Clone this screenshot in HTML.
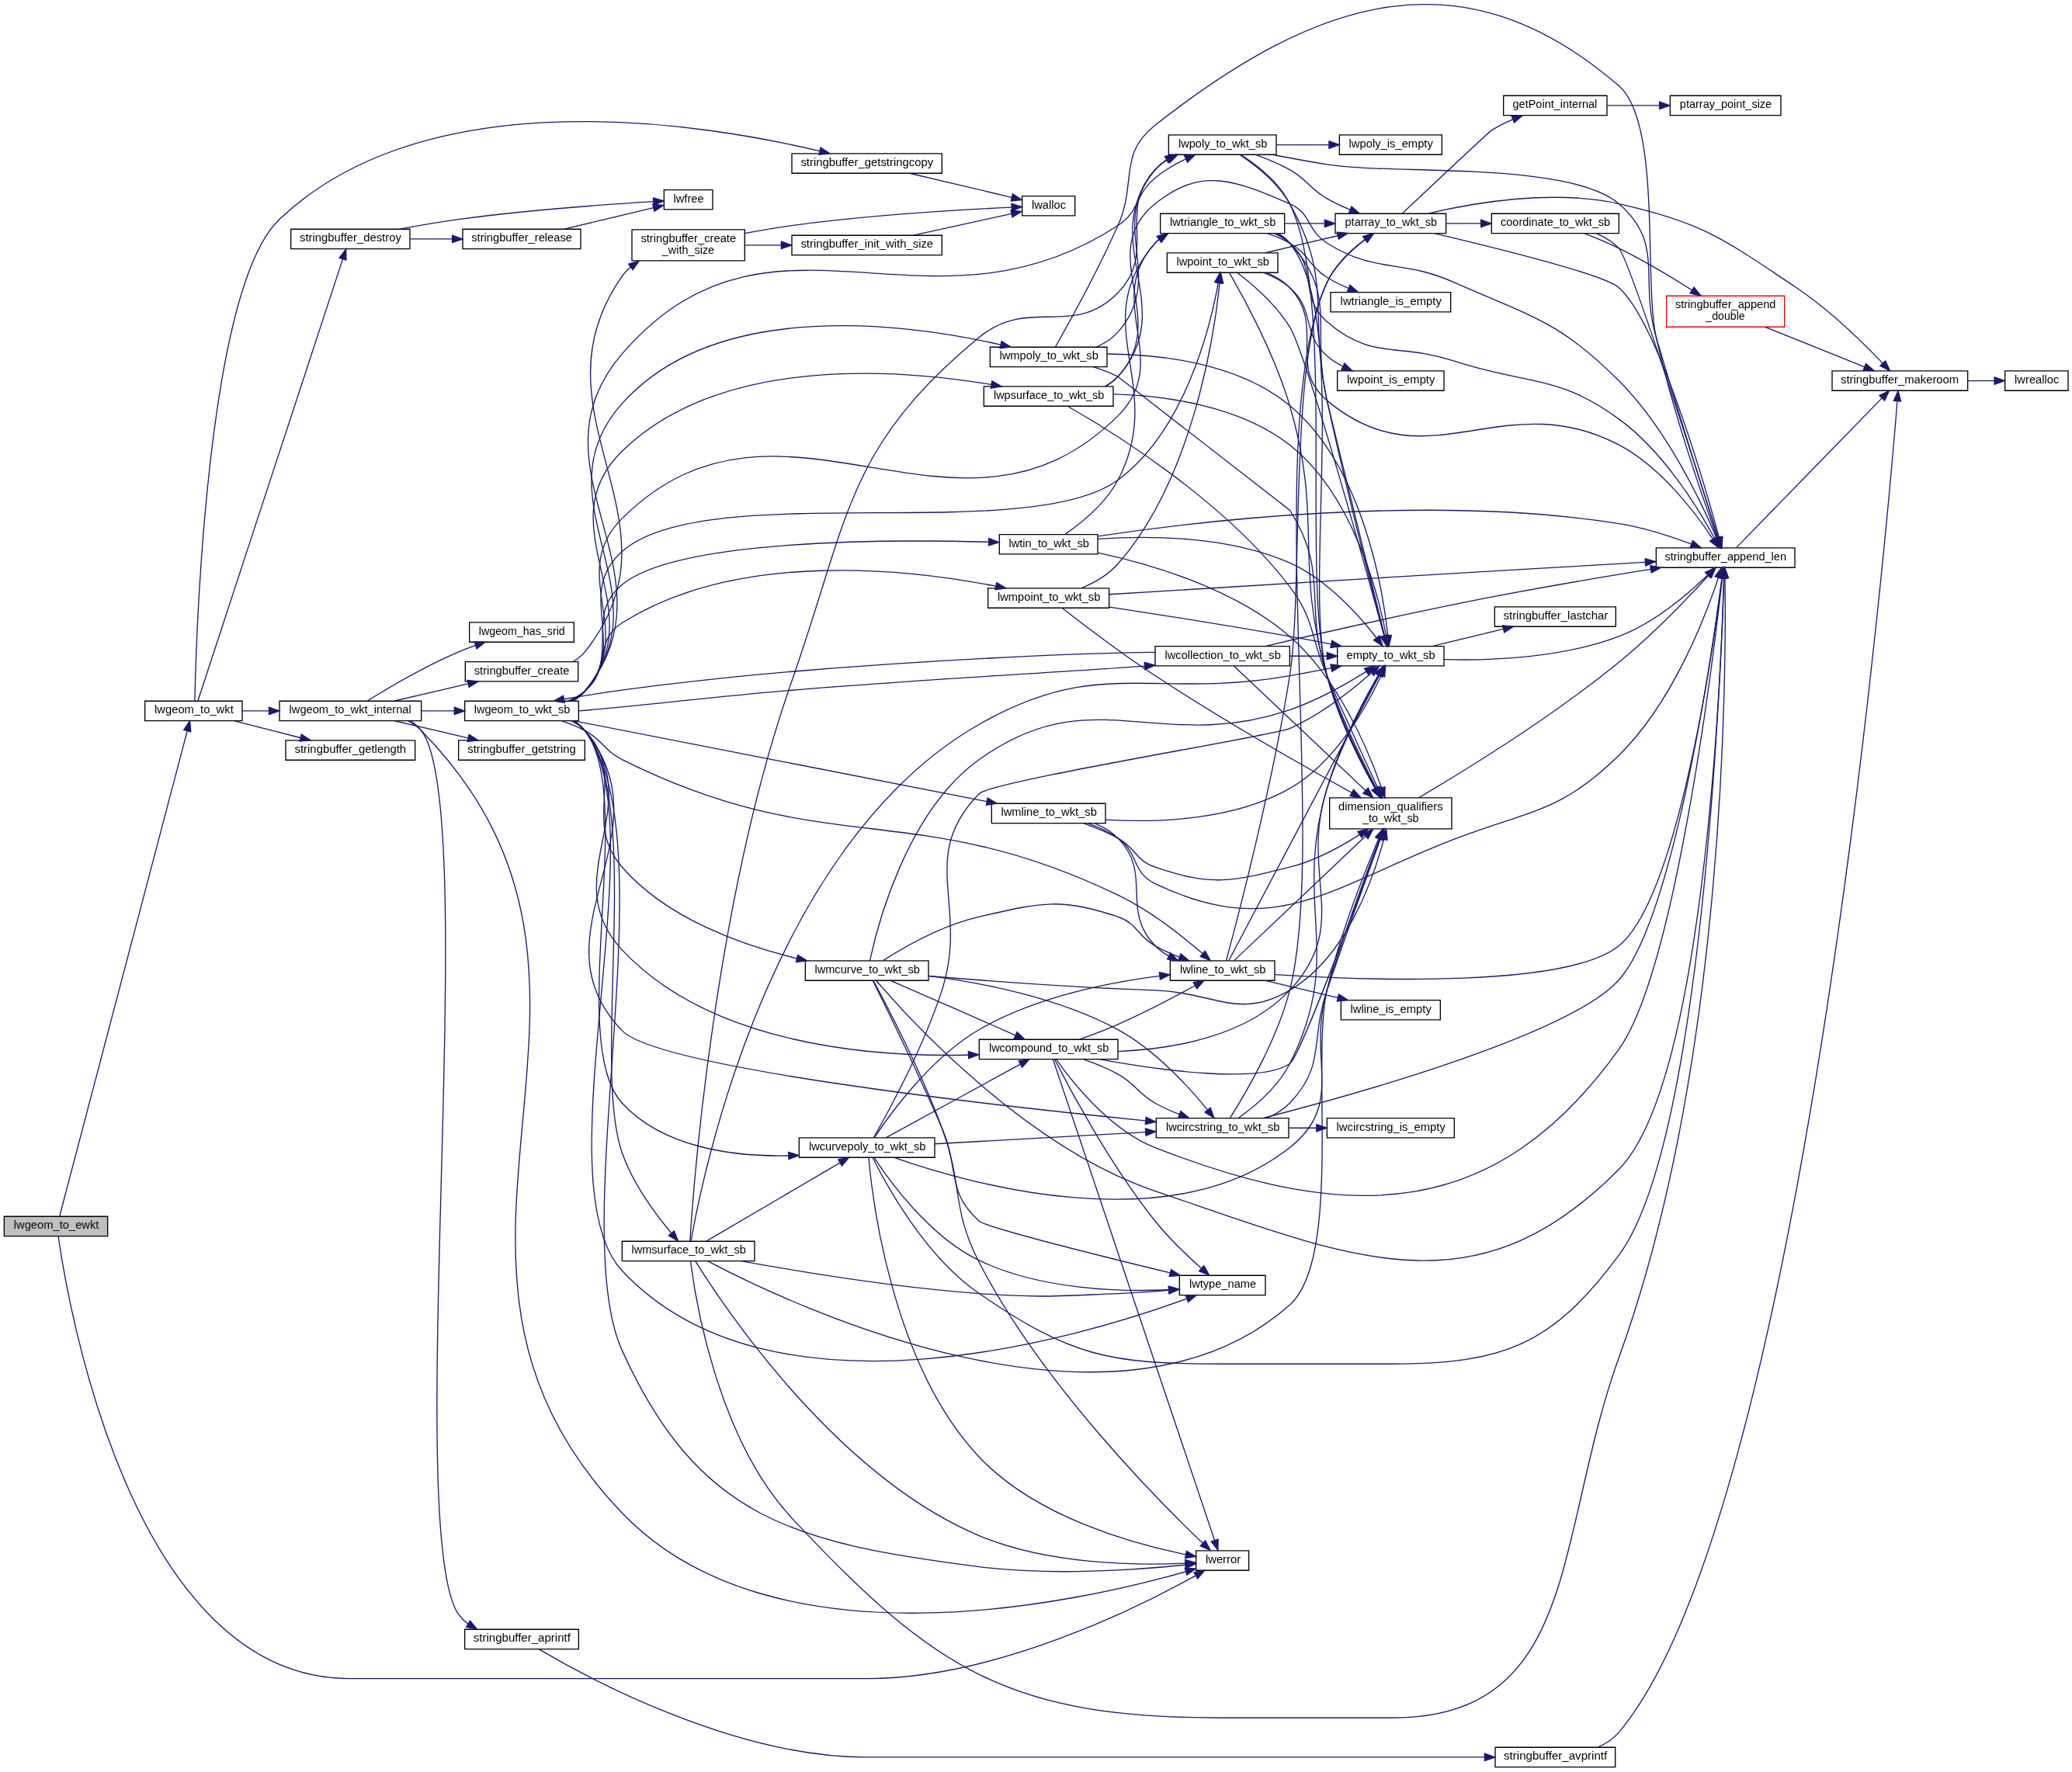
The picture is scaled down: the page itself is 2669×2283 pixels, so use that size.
<!DOCTYPE html>
<html><head><meta charset="utf-8"><style>
html,body{margin:0;padding:0;background:#fff;overflow:hidden;}
svg{display:block;}
text{font-family:"Liberation Sans",sans-serif;font-size:10.5px;text-anchor:middle;fill:#000;filter:grayscale(1);}
</style></head><body>
<svg width="2669" height="2283" viewBox="0 0 2001.75 1712.25">
<rect x="0" y="0" width="2001.75" height="1712.25" fill="#fff"/>
<g transform="scale(1 1) rotate(0) translate(4 1707.91)">
<g><polygon fill="#bfbfbf" stroke="black" points="0,-513.5 0,-532.5 100,-532.5 100,-513.5 0,-513.5"/>
<text x="50.44" y="-520.40" textLength="82.24" lengthAdjust="spacingAndGlyphs">lwgeom_to_ewkt</text>
</g>
<g><g><polygon fill="white" stroke="black" points="1151.5,-190.5 1151.5,-209.5 1202.5,-209.5 1202.5,-190.5 1151.5,-190.5"/>
<text x="1177.65" y="-197.40" textLength="33.92" lengthAdjust="spacingAndGlyphs">lwerror</text>
</g>
</g>
<g><path fill="none" stroke="midnightblue" d="M52.27,-513.47C61.4,-449.56 122.56,-86 333.5,-86 333.5,-86 333.5,-86 834.5,-86 958.62,-86 1095.66,-154.59 1150.9,-185.37"/>
<polygon fill="midnightblue" stroke="midnightblue" points="1149.51,-188.6 1159.94,-190.48 1152.96,-182.51 1149.51,-188.6"/>
</g>
<g><g><polygon fill="white" stroke="black" points="136,-1011.5 136,-1030.5 230,-1030.5 230,-1011.5 136,-1011.5"/>
<text x="183.44" y="-1018.40" textLength="76.24" lengthAdjust="spacingAndGlyphs">lwgeom_to_wkt</text>
</g>
</g>
<g><path fill="none" stroke="midnightblue" d="M53.5,-532.5C69.28,-592.47 155.06,-918.6 176.93,-1001.72"/>
<polygon fill="midnightblue" stroke="midnightblue" points="173.54,-1002.62 179.47,-1011.4 180.31,-1000.84 173.54,-1002.62"/>
</g>
<g><g><polygon fill="white" stroke="black" points="266,-1011.5 266,-1030.5 403,-1030.5 403,-1011.5 266,-1011.5"/>
<text x="334.39" y="-1018.40" textLength="117.90" lengthAdjust="spacingAndGlyphs">lwgeom_to_wkt_internal</text>
</g>
</g>
<g><path fill="none" stroke="midnightblue" d="M230.07,-1021C238.21,-1021 246.89,-1021 255.62,-1021"/>
<polygon fill="midnightblue" stroke="midnightblue" points="255.87,-1024.5 265.87,-1021 255.87,-1017.5 255.87,-1024.5"/>
</g>
<g><g><polygon fill="white" stroke="black" points="277,-1467.5 277,-1486.5 392,-1486.5 392,-1467.5 277,-1467.5"/>
<text x="334.58" y="-1474.40" textLength="98.08" lengthAdjust="spacingAndGlyphs">stringbuffer_destroy</text>
</g>
</g>
<g><path fill="none" stroke="midnightblue" d="M187.12,-1030.52C205.66,-1087.08 301.37,-1378.99 327.11,-1457.52"/>
<polygon fill="midnightblue" stroke="midnightblue" points="323.83,-1458.73 330.27,-1467.14 330.48,-1456.55 323.83,-1458.73"/>
</g>
<g><g><polygon fill="white" stroke="black" points="272,-973.5 272,-992.5 397,-992.5 397,-973.5 272,-973.5"/>
<text x="334.52" y="-980.40" textLength="107.70" lengthAdjust="spacingAndGlyphs">stringbuffer_getlength</text>
</g>
</g>
<g><path fill="none" stroke="midnightblue" d="M221.73,-1011.41C241.28,-1006.44 265.35,-1000.32 286.14,-995.04"/>
<polygon fill="midnightblue" stroke="midnightblue" points="287.22,-998.38 296.05,-992.52 285.49,-991.59 287.22,-998.38"/>
</g>
<g><g><polygon fill="white" stroke="black" points="761,-1540.5 761,-1559.5 906,-1559.5 906,-1540.5 761,-1540.5"/>
<text x="833.58" y="-1547.40" textLength="128.08" lengthAdjust="spacingAndGlyphs">stringbuffer_getstringcopy</text>
</g>
</g>
<g><path fill="none" stroke="midnightblue" d="M184.16,-1030.58C185.42,-1091.9 195.51,-1428.96 266,-1496 411.12,-1634.02 681.62,-1587.32 787.94,-1561.9"/>
<polygon fill="midnightblue" stroke="midnightblue" points="788.83,-1565.28 797.71,-1559.51 787.17,-1558.48 788.83,-1565.28"/>
</g>
<g><path fill="none" stroke="midnightblue" d="M390,-1011.37C394.81,-1008.91 399.26,-1005.83 403,-1002 645.43,-753.89 357.26,-496.71 597,-246 743.71,-92.57 1040.68,-160.38 1141.56,-189.31"/>
<polygon fill="midnightblue" stroke="midnightblue" points="1140.67,-192.7 1151.25,-192.15 1142.63,-185.98 1140.67,-192.7"/>
</g>
<g><g><polygon fill="white" stroke="black" points="449.5,-1087.5 449.5,-1106.5 550.5,-1106.5 550.5,-1087.5 449.5,-1087.5"/>
<text x="500.19" y="-1094.40" textLength="83.24" lengthAdjust="spacingAndGlyphs">lwgeom_has_srid</text>
</g>
</g>
<g><path fill="none" stroke="midnightblue" d="M350.8,-1030.68C370.58,-1042.9 406.38,-1064.02 439,-1078 444.15,-1080.21 449.64,-1082.29 455.13,-1084.21"/>
<polygon fill="midnightblue" stroke="midnightblue" points="454.34,-1087.64 464.94,-1087.49 456.56,-1081 454.34,-1087.64"/>
</g>
<g><g><polygon fill="white" stroke="black" points="445,-1011.5 445,-1030.5 555,-1030.5 555,-1011.5 445,-1011.5"/>
<text x="500.37" y="-1018.40" textLength="92.61" lengthAdjust="spacingAndGlyphs">lwgeom_to_wkt_sb</text>
</g>
</g>
<g><path fill="none" stroke="midnightblue" d="M403.42,-1021C413.82,-1021 424.52,-1021 434.83,-1021"/>
<polygon fill="midnightblue" stroke="midnightblue" points="434.99,-1024.5 444.99,-1021 434.99,-1017.5 434.99,-1024.5"/>
</g>
<g><g><polygon fill="white" stroke="black" points="445,-114.5 445,-133.5 555,-133.5 555,-114.5 445,-114.5"/>
<text x="500.24" y="-121.40" textLength="93.89" lengthAdjust="spacingAndGlyphs">stringbuffer_aprintf</text>
</g>
</g>
<g><path fill="none" stroke="midnightblue" d="M392.12,-1011.4C396.25,-1008.91 399.98,-1005.82 403,-1002 461.92,-927.52 384.11,-225.51 439,-148 441.52,-144.45 444.65,-141.42 448.15,-138.84"/>
<polygon fill="midnightblue" stroke="midnightblue" points="450.12,-141.74 456.89,-133.6 446.51,-135.74 450.12,-141.74"/>
</g>
<g><g><polygon fill="white" stroke="black" points="445.5,-1049.5 445.5,-1068.5 554.5,-1068.5 554.5,-1049.5 445.5,-1049.5"/>
<text x="500.08" y="-1056.40" textLength="92.08" lengthAdjust="spacingAndGlyphs">stringbuffer_create</text>
</g>
</g>
<g><path fill="none" stroke="midnightblue" d="M376.76,-1030.59C398.43,-1035.63 425.18,-1041.84 448.13,-1047.18"/>
<polygon fill="midnightblue" stroke="midnightblue" points="447.51,-1050.63 458.04,-1049.48 449.09,-1043.81 447.51,-1050.63"/>
</g>
<g><g><polygon fill="white" stroke="black" points="439,-973.5 439,-992.5 561,-992.5 561,-973.5 439,-973.5"/>
<text x="499.99" y="-980.40" textLength="104.65" lengthAdjust="spacingAndGlyphs">stringbuffer_getstring</text>
</g>
</g>
<g><path fill="none" stroke="midnightblue" d="M376.76,-1011.41C398.43,-1006.37 425.18,-1000.16 448.13,-994.82"/>
<polygon fill="midnightblue" stroke="midnightblue" points="449.09,-998.19 458.04,-992.52 447.51,-991.37 449.09,-998.19"/>
</g>
<g><path fill="none" stroke="midnightblue" d="M549.93,-1011.46C554.16,-1008.98 557.98,-1005.88 561,-1002 642.98,-896.82 541.92,-524.45 597,-403 671.05,-239.73 764.17,-216.71 942,-194 1012.31,-185.02 1095.43,-191.06 1141.27,-195.82"/>
<polygon fill="midnightblue" stroke="midnightblue" points="1140.96,-199.31 1151.28,-196.91 1141.72,-192.35 1140.96,-199.31"/>
</g>
<g><g><polygon fill="white" stroke="black" points="1113,-608.5 1113,-627.5 1241,-627.5 1241,-608.5 1113,-608.5"/>
<text x="1177.37" y="-615.40" textLength="109.86" lengthAdjust="spacingAndGlyphs">lwcircstring_to_wkt_sb</text>
</g>
</g>
<g><path fill="none" stroke="midnightblue" d="M549.4,-1011.42C553.79,-1008.95 557.79,-1005.86 561,-1002 644.05,-902.15 507,-805.64 597,-712 631.67,-675.92 954.36,-639.84 1102.4,-625.02"/>
<polygon fill="midnightblue" stroke="midnightblue" points="1103.15,-628.46 1112.75,-623.99 1102.45,-621.5 1103.15,-628.46"/>
</g>
<g><g><polygon fill="white" stroke="black" points="1112,-1064.5 1112,-1083.5 1242,-1083.5 1242,-1064.5 1112,-1064.5"/>
<text x="1177.37" y="-1071.40" textLength="112.11" lengthAdjust="spacingAndGlyphs">lwcollection_to_wkt_sb</text>
</g>
</g>
<g><path fill="none" stroke="midnightblue" d="M555.2,-1020.99C607.73,-1025.38 689.72,-1034.97 761,-1041 880.08,-1051.08 1018.75,-1058.16 1101.84,-1064.34"/>
<polygon fill="midnightblue" stroke="midnightblue" points="1101.7,-1067.84 1111.94,-1065.11 1102.23,-1060.86 1101.7,-1067.84"/>
</g>
<g><g><polygon fill="white" stroke="black" points="942,-684.5 942,-703.5 1076,-703.5 1076,-684.5 942,-684.5"/>
<text x="1009.37" y="-691.40" textLength="115.86" lengthAdjust="spacingAndGlyphs">lwcompound_to_wkt_sb</text>
</g>
</g>
<g><path fill="none" stroke="midnightblue" d="M548.93,-1011.43C553.47,-1008.97 557.63,-1005.87 561,-1002 623.74,-929.91 531.66,-859.75 597,-790 682.95,-698.25 838.29,-686.36 931.42,-688.5"/>
<polygon fill="midnightblue" stroke="midnightblue" points="931.52,-692 941.62,-688.8 931.73,-685.01 931.52,-692"/>
</g>
<g><g><polygon fill="white" stroke="black" points="1126.5,-760.5 1126.5,-779.5 1227.5,-779.5 1227.5,-760.5 1126.5,-760.5"/>
<text x="1177.37" y="-767.40" textLength="82.85" lengthAdjust="spacingAndGlyphs">lwline_to_wkt_sb</text>
</g>
</g>
<g><path fill="none" stroke="midnightblue" d="M538.32,-1011.44C546.03,-1008.85 553.94,-1005.71 561,-1002 578.94,-992.57 578.87,-983.07 597,-974 794.37,-875.23 877.15,-938.75 1076,-843 1107.21,-827.97 1138.75,-802.94 1157.84,-786.45"/>
<polygon fill="midnightblue" stroke="midnightblue" points="1160.26,-788.98 1165.46,-779.75 1155.64,-783.73 1160.26,-788.98"/>
</g>
<g><g><polygon fill="white" stroke="black" points="1135.5,-456.5 1135.5,-475.5 1218.5,-475.5 1218.5,-456.5 1135.5,-456.5"/>
<text x="1177.28" y="-463.40" textLength="64.68" lengthAdjust="spacingAndGlyphs">lwtype_name</text>
</g>
</g>
<g><path fill="none" stroke="midnightblue" d="M549.89,-1011.43C554.14,-1008.96 557.96,-1005.86 561,-1002 632.88,-910.61 517.47,-564.83 597,-480 742.27,-325.04 1042.05,-416.29 1142.42,-452.93"/>
<polygon fill="midnightblue" stroke="midnightblue" points="1141.45,-456.3 1152.04,-456.5 1143.88,-449.74 1141.45,-456.3"/>
</g>
<g><g><polygon fill="white" stroke="black" points="768,-589.5 768,-608.5 899,-608.5 899,-589.5 768,-589.5"/>
<text x="833.87" y="-596.40" textLength="112.86" lengthAdjust="spacingAndGlyphs">lwcurvepoly_to_wkt_sb</text>
</g>
</g>
<g><path fill="none" stroke="midnightblue" d="M549.49,-1011.5C553.87,-1009.02 557.83,-1005.9 561,-1002 611.67,-939.58 542.5,-701.1 597,-642 636.95,-598.68 704.9,-590.15 757.57,-591.17"/>
<polygon fill="midnightblue" stroke="midnightblue" points="757.78,-594.68 767.88,-591.5 758,-587.68 757.78,-594.68"/>
</g>
<g><g><polygon fill="white" stroke="black" points="774,-760.5 774,-779.5 893,-779.5 893,-760.5 774,-760.5"/>
<text x="833.87" y="-767.40" textLength="101.61" lengthAdjust="spacingAndGlyphs">lwmcurve_to_wkt_sb</text>
</g>
</g>
<g><path fill="none" stroke="midnightblue" d="M547.97,-1011.4C552.8,-1008.94 557.29,-1005.86 561,-1002 603.12,-958.14 557.01,-915.81 597,-870 640.36,-820.33 712.61,-794.64 765.67,-781.82"/>
<polygon fill="midnightblue" stroke="midnightblue" points="766.73,-785.17 775.68,-779.5 765.15,-778.35 766.73,-785.17"/>
</g>
<g><g><polygon fill="white" stroke="black" points="954,-912.5 954,-931.5 1064,-931.5 1064,-912.5 954,-912.5"/>
<text x="1009.37" y="-919.40" textLength="92.60" lengthAdjust="spacingAndGlyphs">lwmline_to_wkt_sb</text>
</g>
</g>
<g><path fill="none" stroke="midnightblue" d="M550.07,-1011.42C643.9,-993.1 848.34,-953.18 949.25,-933.47"/>
<polygon fill="midnightblue" stroke="midnightblue" points="950.13,-936.87 959.27,-931.52 948.79,-930 950.13,-936.87"/>
</g>
<g><g><polygon fill="white" stroke="black" points="950.5,-1120.5 950.5,-1139.5 1067.5,-1139.5 1067.5,-1120.5 950.5,-1120.5"/>
<text x="1009.37" y="-1127.40" textLength="99.36" lengthAdjust="spacingAndGlyphs">lwmpoint_to_wkt_sb</text>
</g>
</g>
<g><path fill="none" stroke="midnightblue" d="M545,-1030.55C550.75,-1033.01 556.28,-1036.11 561,-1040 586.79,-1061.24 568.78,-1088.11 597,-1106 709.43,-1177.26 875.79,-1157.54 958.11,-1141.5"/>
<polygon fill="midnightblue" stroke="midnightblue" points="958.85,-1144.92 967.96,-1139.52 957.47,-1138.06 958.85,-1144.92"/>
</g>
<g><g><polygon fill="white" stroke="black" points="1123.5,-1444.5 1123.5,-1463.5 1230.5,-1463.5 1230.5,-1444.5 1123.5,-1444.5"/>
<text x="1177.37" y="-1451.40" textLength="89.61" lengthAdjust="spacingAndGlyphs">lwpoint_to_wkt_sb</text>
</g>
</g>
<g><path fill="none" stroke="midnightblue" d="M547.99,-1030.58C552.82,-1033.04 557.3,-1036.13 561,-1040 603.89,-1084.91 550.59,-1133.75 597,-1175 677.38,-1246.45 989.4,-1180.23 1076,-1244 1140.77,-1291.7 1165.29,-1392.31 1172.98,-1434.62"/>
<polygon fill="midnightblue" stroke="midnightblue" points="1169.53,-1435.21 1174.66,-1444.48 1176.43,-1434.04 1169.53,-1435.21"/>
</g>
<g><g><polygon fill="white" stroke="black" points="952.5,-1353.5 952.5,-1372.5 1065.5,-1372.5 1065.5,-1353.5 952.5,-1353.5"/>
<text x="1009.37" y="-1360.40" textLength="95.61" lengthAdjust="spacingAndGlyphs">lwmpoly_to_wkt_sb</text>
</g>
</g>
<g><path fill="none" stroke="midnightblue" d="M549.38,-1030.6C553.77,-1033.06 557.78,-1036.14 561,-1040 640.92,-1135.57 513.9,-1225.18 597,-1318 689.47,-1421.3 876.37,-1394.34 962.57,-1374.87"/>
<polygon fill="midnightblue" stroke="midnightblue" points="963.62,-1378.22 972.56,-1372.55 962.03,-1371.4 963.62,-1378.22"/>
</g>
<g><g><polygon fill="white" stroke="black" points="1125,-1558.5 1125,-1577.5 1229,-1577.5 1229,-1558.5 1125,-1558.5"/>
<text x="1177.37" y="-1565.40" textLength="85.86" lengthAdjust="spacingAndGlyphs">lwpoly_to_wkt_sb</text>
</g>
</g>
<g><path fill="none" stroke="midnightblue" d="M549.45,-1030.54C553.83,-1033.01 557.81,-1036.11 561,-1040 653.46,-1152.7 501.57,-1255.81 597,-1366 740.96,-1532.23 892.06,-1369.48 1076,-1490 1097.71,-1504.23 1091.9,-1519.57 1112,-1536 1120.75,-1543.15 1131.36,-1549.26 1141.4,-1554.16"/>
<polygon fill="midnightblue" stroke="midnightblue" points="1140.23,-1557.48 1150.78,-1558.49 1143.16,-1551.12 1140.23,-1557.48"/>
</g>
<g><g><polygon fill="white" stroke="black" points="597,-489.5 597,-508.5 725,-508.5 725,-489.5 597,-489.5"/>
<text x="661.37" y="-496.40" textLength="110.61" lengthAdjust="spacingAndGlyphs">lwmsurface_to_wkt_sb</text>
</g>
</g>
<g><path fill="none" stroke="midnightblue" d="M549.82,-1011.37C554.07,-1008.91 557.92,-1005.84 561,-1002 617.95,-931 566.92,-679.91 597,-594 607.45,-564.14 629.41,-534.53 644.44,-516.5"/>
<polygon fill="midnightblue" stroke="midnightblue" points="647.33,-518.51 651.17,-508.63 642.01,-513.95 647.33,-518.51"/>
</g>
<g><g><polygon fill="white" stroke="black" points="946.5,-1315.5 946.5,-1334.5 1071.5,-1334.5 1071.5,-1315.5 946.5,-1315.5"/>
<text x="1009.37" y="-1322.40" textLength="106.86" lengthAdjust="spacingAndGlyphs">lwpsurface_to_wkt_sb</text>
</g>
</g>
<g><path fill="none" stroke="midnightblue" d="M548.99,-1030.52C553.52,-1033 557.66,-1036.1 561,-1040 628.94,-1119.2 522.27,-1199.17 597,-1272 692.65,-1365.22 865.72,-1351.11 953.61,-1336.31"/>
<polygon fill="midnightblue" stroke="midnightblue" points="954.4,-1339.73 963.64,-1334.56 953.19,-1332.83 954.4,-1339.73"/>
</g>
<g><g><polygon fill="white" stroke="black" points="961.5,-1172.5 961.5,-1191.5 1056.5,-1191.5 1056.5,-1172.5 961.5,-1172.5"/>
<text x="1009.37" y="-1179.40" textLength="77.61" lengthAdjust="spacingAndGlyphs">lwtin_to_wkt_sb</text>
</g>
</g>
<g><path fill="none" stroke="midnightblue" d="M547.11,-1030.57C552.22,-1033.03 557,-1036.12 561,-1040 595.79,-1073.78 559.69,-1112.02 597,-1143 649.46,-1186.56 850.97,-1186.91 951,-1184.22"/>
<polygon fill="midnightblue" stroke="midnightblue" points="951.33,-1187.71 961.23,-1183.93 951.13,-1180.72 951.33,-1187.71"/>
</g>
<g><g><polygon fill="white" stroke="black" points="1117,-1482.5 1117,-1501.5 1237,-1501.5 1237,-1482.5 1117,-1482.5"/>
<text x="1177.37" y="-1489.40" textLength="102.36" lengthAdjust="spacingAndGlyphs">lwtriangle_to_wkt_sb</text>
</g>
</g>
<g><path fill="none" stroke="midnightblue" d="M548.47,-1030.56C553.16,-1033.03 557.47,-1036.12 561,-1040 612.1,-1096.16 543.08,-1153.54 597,-1207 751.37,-1360.06 921.63,-1152.94 1076,-1306 1129.92,-1359.46 1060.4,-1417.3 1112,-1473 1113.22,-1474.32 1114.52,-1475.54 1115.9,-1476.68"/>
<polygon fill="midnightblue" stroke="midnightblue" points="1114.19,-1479.75 1124.46,-1482.35 1118.06,-1473.91 1114.19,-1479.75"/>
</g>
<g><g><polygon fill="white" stroke="black" points="1280.5,-907 1280.5,-937 1398.5,-937 1398.5,-907 1280.5,-907"/>
<text x="1339.51" y="-924.90" textLength="100.92" lengthAdjust="spacingAndGlyphs">dimension_qualifiers</text>
<text x="1339.44" y="-913.90" textLength="54.47" lengthAdjust="spacingAndGlyphs">_to_wkt_sb</text>
</g>
</g>
<g><path fill="none" stroke="midnightblue" d="M1219.82,-627.54C1228,-630.99 1235.92,-635.67 1242,-642 1277.35,-678.79 1261.49,-702.73 1278,-751 1295.84,-803.16 1317.57,-863.94 1329.53,-897.17"/>
<polygon fill="midnightblue" stroke="midnightblue" points="1326.37,-898.72 1333.05,-906.94 1332.95,-896.35 1326.37,-898.72"/>
</g>
<g><g><polygon fill="white" stroke="black" points="1596,-1159.5 1596,-1178.5 1730,-1178.5 1730,-1159.5 1596,-1159.5"/>
<text x="1663.02" y="-1166.40" textLength="117.45" lengthAdjust="spacingAndGlyphs">stringbuffer_append_len</text>
</g>
</g>
<g><path fill="none" stroke="midnightblue" d="M1216.43,-627.53C1303.62,-649.89 1512.55,-707.84 1560,-761 1613.08,-820.46 1649.81,-1075.24 1659.47,-1148.95"/>
<polygon fill="midnightblue" stroke="midnightblue" points="1656.04,-1149.7 1660.79,-1159.17 1662.98,-1148.8 1656.04,-1149.7"/>
</g>
<g><g><polygon fill="white" stroke="black" points="1288,-1064.5 1288,-1083.5 1391,-1083.5 1391,-1064.5 1288,-1064.5"/>
<text x="1339.67" y="-1071.40" textLength="85.50" lengthAdjust="spacingAndGlyphs">empty_to_wkt_sb</text>
</g>
</g>
<g><path fill="none" stroke="midnightblue" d="M1192.7,-627.69C1207.79,-638.51 1230.63,-657.49 1242,-680 1295.81,-786.48 1244.11,-831.61 1278,-946 1290.15,-987.01 1313.74,-1031.41 1327.6,-1055.65"/>
<polygon fill="midnightblue" stroke="midnightblue" points="1324.67,-1057.57 1332.72,-1064.45 1330.72,-1054.05 1324.67,-1057.57"/>
</g>
<g><g><polygon fill="white" stroke="black" points="1278,-608.5 1278,-627.5 1401,-627.5 1401,-608.5 1278,-608.5"/>
<text x="1339.78" y="-615.40" textLength="105.17" lengthAdjust="spacingAndGlyphs">lwcircstring_is_empty</text>
</g>
</g>
<g><path fill="none" stroke="midnightblue" d="M1241.43,-618C1250.06,-618 1258.96,-618 1267.71,-618"/>
<polygon fill="midnightblue" stroke="midnightblue" points="1267.88,-621.5 1277.88,-618 1267.88,-614.5 1267.88,-621.5"/>
</g>
<g><g><polygon fill="white" stroke="black" points="1286,-1482.5 1286,-1501.5 1393,-1501.5 1393,-1482.5 1286,-1482.5"/>
<text x="1339.85" y="-1489.40" textLength="88.89" lengthAdjust="spacingAndGlyphs">ptarray_to_wkt_sb</text>
</g>
</g>
<g><path fill="none" stroke="midnightblue" d="M1184.43,-627.82C1198.01,-649.17 1229.42,-701.85 1242,-751 1279.74,-898.46 1214.01,-1296.89 1278,-1435 1285.86,-1451.97 1301.27,-1466.37 1314.57,-1476.45"/>
<polygon fill="midnightblue" stroke="midnightblue" points="1312.74,-1479.44 1322.9,-1482.43 1316.82,-1473.76 1312.74,-1479.44"/>
</g>
<g><path fill="none" stroke="midnightblue" d="M1366.64,-937.12C1408.96,-962.09 1494.36,-1014.52 1560,-1068 1593.09,-1094.96 1627.56,-1131.05 1646.75,-1151.99"/>
<polygon fill="midnightblue" stroke="midnightblue" points="1644.23,-1154.42 1653.54,-1159.47 1649.41,-1149.72 1644.23,-1154.42"/>
</g>
<g><g><polygon fill="white" stroke="black" points="1766,-1330.5 1766,-1349.5 1897,-1349.5 1897,-1330.5 1766,-1330.5"/>
<text x="1831.34" y="-1337.40" textLength="114.10" lengthAdjust="spacingAndGlyphs">stringbuffer_makeroom</text>
</g>
</g>
<g><path fill="none" stroke="midnightblue" d="M1673.43,-1178.68C1700.67,-1206.67 1779.75,-1287.88 1814.17,-1323.23"/>
<polygon fill="midnightblue" stroke="midnightblue" points="1811.69,-1325.7 1821.17,-1330.42 1816.71,-1320.82 1811.69,-1325.7"/>
</g>
<g><g><polygon fill="white" stroke="black" points="1933,-1330.5 1933,-1349.5 1994,-1349.5 1994,-1330.5 1933,-1330.5"/>
<text x="1963.79" y="-1337.40" textLength="42.94" lengthAdjust="spacingAndGlyphs">lwrealloc</text>
</g>
</g>
<g><path fill="none" stroke="midnightblue" d="M1897.12,-1340C1905.8,-1340 1914.5,-1340 1922.58,-1340"/>
<polygon fill="midnightblue" stroke="midnightblue" points="1922.8,-1343.5 1932.8,-1340 1922.8,-1336.5 1922.8,-1343.5"/>
</g>
<g><path fill="none" stroke="midnightblue" d="M1391.05,-1070.67C1436.69,-1069.44 1504.94,-1072.06 1560,-1093 1594.32,-1106.05 1627.08,-1134.2 1645.83,-1152.34"/>
<polygon fill="midnightblue" stroke="midnightblue" points="1643.41,-1154.87 1652.98,-1159.42 1648.34,-1149.9 1643.41,-1154.87"/>
</g>
<g><g><polygon fill="white" stroke="black" points="1440,-1102.5 1440,-1121.5 1557,-1121.5 1557,-1102.5 1440,-1102.5"/>
<text x="1498.95" y="-1109.40" textLength="101.07" lengthAdjust="spacingAndGlyphs">stringbuffer_lastchar</text>
</g>
</g>
<g><path fill="none" stroke="midnightblue" d="M1380.12,-1083.59C1400.84,-1088.6 1426.39,-1094.79 1448.36,-1100.11"/>
<polygon fill="midnightblue" stroke="midnightblue" points="1447.62,-1103.53 1458.17,-1102.48 1449.27,-1096.73 1447.62,-1103.53"/>
</g>
<g><path fill="none" stroke="midnightblue" d="M1381.57,-1482.49C1441.34,-1468.34 1546.66,-1442.11 1560,-1430 1597.67,-1395.83 1641.85,-1243.36 1656.78,-1188.63"/>
<polygon fill="midnightblue" stroke="midnightblue" points="1660.21,-1189.35 1659.43,-1178.79 1653.45,-1187.53 1660.21,-1189.35"/>
</g>
<g><path fill="none" stroke="midnightblue" d="M1375.53,-1501.52C1419.23,-1511.92 1495.98,-1525.31 1560,-1511 1641.49,-1492.78 1660.51,-1477.31 1730,-1431 1763.05,-1408.97 1796.2,-1376.44 1814.95,-1356.83"/>
<polygon fill="midnightblue" stroke="midnightblue" points="1817.53,-1359.2 1821.85,-1349.52 1812.44,-1354.39 1817.53,-1359.2"/>
</g>
<g><g><polygon fill="white" stroke="black" points="1437,-1482.5 1437,-1501.5 1560,-1501.5 1560,-1482.5 1437,-1482.5"/>
<text x="1498.67" y="-1489.40" textLength="105.74" lengthAdjust="spacingAndGlyphs">coordinate_to_wkt_sb</text>
</g>
</g>
<g><path fill="none" stroke="midnightblue" d="M1393.22,-1492C1403.92,-1492 1415.35,-1492 1426.57,-1492"/>
<polygon fill="midnightblue" stroke="midnightblue" points="1426.79,-1495.5 1436.79,-1492 1426.79,-1488.5 1426.79,-1495.5"/>
</g>
<g><g><polygon fill="white" stroke="black" points="1448.5,-1596.5 1448.5,-1615.5 1548.5,-1615.5 1548.5,-1596.5 1448.5,-1596.5"/>
<text x="1498.20" y="-1603.40" textLength="81.54" lengthAdjust="spacingAndGlyphs">getPoint_internal</text>
</g>
</g>
<g><path fill="none" stroke="midnightblue" d="M1350.88,-1501.78C1375.3,-1524.76 1434.54,-1580.45 1437,-1582 1443.3,-1585.99 1450.38,-1589.51 1457.41,-1592.55"/>
<polygon fill="midnightblue" stroke="midnightblue" points="1456.3,-1595.88 1466.89,-1596.39 1458.93,-1589.39 1456.3,-1595.88"/>
</g>
<g><path fill="none" stroke="midnightblue" d="M1538.07,-1482.45C1546.14,-1478.98 1554,-1474.3 1560,-1468 1570.19,-1457.3 1635.52,-1252.68 1655.92,-1188.25"/>
<polygon fill="midnightblue" stroke="midnightblue" points="1659.32,-1189.13 1658.99,-1178.54 1652.64,-1187.02 1659.32,-1189.13"/>
</g>
<g><g><polygon fill="white" stroke="red" points="1606,-1392 1606,-1422 1720,-1422 1720,-1392 1606,-1392"/>
<text x="1662.99" y="-1409.90" textLength="97.14" lengthAdjust="spacingAndGlyphs">stringbuffer_append</text>
<text x="1662.85" y="-1398.90" textLength="37.80" lengthAdjust="spacingAndGlyphs">_double</text>
</g>
</g>
<g><path fill="none" stroke="midnightblue" d="M1526.41,-1482.39C1537.04,-1478.32 1549.26,-1473.3 1560,-1468 1584.39,-1455.97 1610.71,-1440.15 1630.5,-1427.64"/>
<polygon fill="midnightblue" stroke="midnightblue" points="1632.55,-1430.48 1639.1,-1422.15 1628.79,-1424.58 1632.55,-1430.48"/>
</g>
<g><path fill="none" stroke="midnightblue" d="M1701.37,-1391.96C1730.06,-1380.42 1769.32,-1364.62 1797,-1353.48"/>
<polygon fill="midnightblue" stroke="midnightblue" points="1798.66,-1356.58 1806.63,-1349.6 1796.05,-1350.09 1798.66,-1356.58"/>
</g>
<g><g><polygon fill="white" stroke="black" points="1609.5,-1596.5 1609.5,-1615.5 1716.5,-1615.5 1716.5,-1596.5 1609.5,-1596.5"/>
<text x="1663.27" y="-1603.40" textLength="88.72" lengthAdjust="spacingAndGlyphs">ptarray_point_size</text>
</g>
</g>
<g><path fill="none" stroke="midnightblue" d="M1548.7,-1606C1564.55,-1606 1582.35,-1606 1599.06,-1606"/>
<polygon fill="midnightblue" stroke="midnightblue" points="1599.3,-1609.5 1609.3,-1606 1599.3,-1602.5 1599.3,-1609.5"/>
</g>
<g><path fill="none" stroke="midnightblue" d="M1111.94,-1077.6C1030.35,-1076.75 885.05,-1069.5 761,-1059 682.88,-1052.39 591.91,-1041.51 540.93,-1032.36"/>
<polygon fill="midnightblue" stroke="midnightblue" points="541.45,-1028.9 530.98,-1030.5 540.16,-1035.78 541.45,-1028.9"/>
</g>
<g><path fill="none" stroke="midnightblue" d="M1188.04,-1064.49C1213.18,-1040.68 1279.36,-978.01 1314.99,-944.27"/>
<polygon fill="midnightblue" stroke="midnightblue" points="1317.66,-946.55 1322.52,-937.14 1312.85,-941.47 1317.66,-946.55"/>
</g>
<g><path fill="none" stroke="midnightblue" d="M1218.25,-1083.5C1269.07,-1095.35 1359.26,-1115.89 1437,-1131 1488.23,-1140.96 1546.32,-1150.73 1590.64,-1157.87"/>
<polygon fill="midnightblue" stroke="midnightblue" points="1590.31,-1161.36 1600.73,-1159.49 1591.42,-1154.45 1590.31,-1161.36"/>
</g>
<g><path fill="none" stroke="midnightblue" d="M1242.36,-1074C1254.09,-1074 1266.3,-1074 1277.93,-1074"/>
<polygon fill="midnightblue" stroke="midnightblue" points="1277.96,-1077.5 1287.96,-1074 1277.96,-1070.5 1277.96,-1077.5"/>
</g>
<g><path fill="none" stroke="midnightblue" d="M1013.32,-684.13C1033.65,-623.62 1141.54,-302.55 1169.42,-219.58"/>
<polygon fill="midnightblue" stroke="midnightblue" points="1172.81,-220.49 1172.68,-209.89 1166.17,-218.26 1172.81,-220.49"/>
</g>
<g><path fill="none" stroke="midnightblue" d="M1042.44,-684.46C1053.42,-680.65 1065.54,-675.78 1076,-670 1093.74,-660.19 1094.31,-651.89 1112,-642 1119.29,-637.92 1127.41,-634.27 1135.35,-631.13"/>
<polygon fill="midnightblue" stroke="midnightblue" points="1136.75,-634.34 1144.88,-627.54 1134.29,-627.79 1136.75,-634.34"/>
</g>
<g><path fill="none" stroke="midnightblue" d="M1057.73,-684.46C1116.76,-673.77 1213.02,-660.36 1242,-680 1251.58,-686.49 1307.52,-837.27 1329.57,-897.49"/>
<polygon fill="midnightblue" stroke="midnightblue" points="1326.32,-898.79 1333.04,-906.98 1332.89,-896.39 1326.32,-898.79"/>
</g>
<g><path fill="none" stroke="midnightblue" d="M1016.47,-684.28C1030.78,-663.78 1067.41,-616.55 1112,-599 1301.4,-524.46 1441.43,-528.57 1560,-694 1614.33,-769.8 1650.9,-1069.05 1659.86,-1149.18"/>
<polygon fill="midnightblue" stroke="midnightblue" points="1656.41,-1149.8 1660.98,-1159.36 1663.37,-1149.03 1656.41,-1149.8"/>
</g>
<g><path fill="none" stroke="midnightblue" d="M1076.1,-691.93C1128.57,-694.07 1199.89,-706.05 1242,-751 1302.25,-815.32 1250.94,-862.12 1278,-946 1291.13,-986.71 1314.37,-1031.22 1327.9,-1055.55"/>
<polygon fill="midnightblue" stroke="midnightblue" points="1324.93,-1057.41 1332.89,-1064.4 1331.03,-1053.97 1324.93,-1057.41"/>
</g>
<g><path fill="none" stroke="midnightblue" d="M1038.91,-703.59C1050.57,-707.7 1064.06,-712.75 1076,-718 1101.98,-729.42 1130.62,-744.59 1150.57,-755.6"/>
<polygon fill="midnightblue" stroke="midnightblue" points="1148.9,-758.68 1159.34,-760.48 1152.31,-752.56 1148.9,-758.68"/>
</g>
<g><path fill="none" stroke="midnightblue" d="M1014.77,-684.47C1028.15,-658.17 1067.97,-582.88 1112,-528 1125.47,-511.21 1143.2,-494.36 1156.58,-482.47"/>
<polygon fill="midnightblue" stroke="midnightblue" points="1159.04,-484.97 1164.28,-475.76 1154.44,-479.69 1159.04,-484.97"/>
</g>
<g><path fill="none" stroke="midnightblue" d="M1188.04,-779.51C1213.18,-803.32 1279.36,-865.99 1314.99,-899.73"/>
<polygon fill="midnightblue" stroke="midnightblue" points="1312.85,-902.53 1322.52,-906.86 1317.66,-897.45 1312.85,-902.53"/>
</g>
<g><path fill="none" stroke="midnightblue" d="M1227.7,-766.24C1319.41,-760.38 1510.43,-753.59 1560,-794 1616.84,-840.34 1650.7,-1078.41 1659.62,-1149.15"/>
<polygon fill="midnightblue" stroke="midnightblue" points="1656.18,-1149.85 1660.88,-1159.35 1663.13,-1149 1656.18,-1149.85"/>
</g>
<g><path fill="none" stroke="midnightblue" d="M1183.16,-779.77C1205.99,-823.01 1298.14,-997.56 1328.64,-1055.33"/>
<polygon fill="midnightblue" stroke="midnightblue" points="1325.68,-1057.21 1333.44,-1064.42 1331.87,-1053.94 1325.68,-1057.21"/>
</g>
<g><path fill="none" stroke="midnightblue" d="M1180.66,-779.76C1190.44,-815.92 1224.64,-945.82 1242,-1055 1255.32,-1138.77 1240.74,-1358.8 1278,-1435 1286.22,-1451.8 1301.62,-1466.2 1314.83,-1476.32"/>
<polygon fill="midnightblue" stroke="midnightblue" points="1312.95,-1479.29 1323.09,-1482.34 1317.07,-1473.63 1312.95,-1479.29"/>
</g>
<g><g><polygon fill="white" stroke="black" points="1291.5,-722.5 1291.5,-741.5 1387.5,-741.5 1387.5,-722.5 1291.5,-722.5"/>
<text x="1339.78" y="-729.40" textLength="78.17" lengthAdjust="spacingAndGlyphs">lwline_is_empty</text>
</g>
</g>
<g><path fill="none" stroke="midnightblue" d="M1218.5,-760.41C1239.68,-755.4 1265.8,-749.21 1288.26,-743.89"/>
<polygon fill="midnightblue" stroke="midnightblue" points="1289.37,-747.23 1298.29,-741.52 1287.75,-740.42 1289.37,-747.23"/>
</g>
<g><path fill="none" stroke="midnightblue" d="M835.24,-589.29C838.84,-548.52 857.99,-389.1 942,-300 996.75,-241.93 1090.76,-216.02 1141.35,-205.8"/>
<polygon fill="midnightblue" stroke="midnightblue" points="1142.3,-209.18 1151.45,-203.85 1140.97,-202.31 1142.3,-209.18"/>
</g>
<g><path fill="none" stroke="midnightblue" d="M899.14,-602.6C957.08,-605.82 1042.04,-610.55 1102.54,-613.91"/>
<polygon fill="midnightblue" stroke="midnightblue" points="1102.61,-617.42 1112.78,-614.48 1102.99,-610.43 1102.61,-617.42"/>
</g>
<g><path fill="none" stroke="midnightblue" d="M859.93,-589.37C929.7,-564.77 1126.58,-507.72 1242,-599 1296.45,-642.06 1258.39,-684.4 1278,-751 1293.49,-803.61 1315.9,-863.78 1328.65,-896.87"/>
<polygon fill="midnightblue" stroke="midnightblue" points="1325.55,-898.56 1332.43,-906.62 1332.08,-896.03 1325.55,-898.56"/>
</g>
<g><path fill="none" stroke="midnightblue" d="M839.03,-589.44C851.6,-563.98 889.45,-494.04 942,-458 1031.32,-396.75 1067.7,-390 1176,-390 1176,-390 1176,-390 1340.5,-390 1448.64,-390 1495.64,-408.09 1560,-495 1639.94,-602.95 1658.31,-1049.45 1661.45,-1149.18"/>
<polygon fill="midnightblue" stroke="midnightblue" points="1657.95,-1149.47 1661.75,-1159.36 1664.95,-1149.26 1657.95,-1149.47"/>
</g>
<g><path fill="none" stroke="midnightblue" d="M840.08,-608.61C853.48,-632.1 887.74,-694.68 906,-751 932.5,-832.76 881.83,-879.63 942,-941 953.92,-953.16 1226.43,-997.1 1242,-1004 1272.36,-1017.46 1302.56,-1041.54 1320.89,-1057.64"/>
<polygon fill="midnightblue" stroke="midnightblue" points="1318.65,-1060.34 1328.43,-1064.41 1323.32,-1055.13 1318.65,-1060.34"/>
</g>
<g><path fill="none" stroke="midnightblue" d="M852.09,-608.63C882.7,-625.39 945.89,-659.99 981.71,-679.61"/>
<polygon fill="midnightblue" stroke="midnightblue" points="980.17,-682.75 990.62,-684.48 983.53,-676.61 980.17,-682.75"/>
</g>
<g><path fill="none" stroke="midnightblue" d="M840.71,-608.72C855.42,-630.91 894.74,-685.51 942,-713 995.99,-744.4 1066.64,-758.57 1116.13,-764.92"/>
<polygon fill="midnightblue" stroke="midnightblue" points="1116.01,-768.43 1126.36,-766.16 1116.85,-761.48 1116.01,-768.43"/>
</g>
<g><path fill="none" stroke="midnightblue" d="M840.58,-589.27C855.03,-567.12 893.83,-513.11 942,-490 1000.27,-462.05 1075.91,-459.48 1125.18,-461.6"/>
<polygon fill="midnightblue" stroke="midnightblue" points="1125.12,-465.1 1135.28,-462.11 1125.47,-458.11 1125.12,-465.1"/>
</g>
<g><path fill="none" stroke="midnightblue" d="M839.78,-760.29C852.52,-736.56 885.43,-673.51 906,-618 926.83,-561.78 914.52,-541.28 942,-488 1002.06,-371.58 1114.34,-258.4 1158,-216.76"/>
<polygon fill="midnightblue" stroke="midnightblue" points="1160.46,-219.25 1165.32,-209.84 1155.65,-214.17 1160.46,-219.25"/>
</g>
<g><path fill="none" stroke="midnightblue" d="M893.17,-764.84C944.06,-758.4 1018.4,-744.15 1076,-713 1112.28,-693.38 1145.02,-657.15 1162.55,-635.54"/>
<polygon fill="midnightblue" stroke="midnightblue" points="1165.43,-637.54 1168.9,-627.53 1159.95,-633.19 1165.43,-637.54"/>
</g>
<g><path fill="none" stroke="midnightblue" d="M893.18,-764.81C949.3,-760.13 1036.35,-753.59 1112,-751 1169.74,-749.03 1192.11,-721.87 1242,-751 1296.33,-782.73 1322.48,-857.6 1332.85,-896.9"/>
<polygon fill="midnightblue" stroke="midnightblue" points="1329.49,-897.91 1335.31,-906.76 1336.28,-896.21 1329.49,-897.91"/>
</g>
<g><path fill="none" stroke="midnightblue" d="M842.74,-760.13C873.55,-724.1 986.64,-599.58 1112,-557 1300.74,-492.89 1419.72,-436.38 1560,-578 1642.57,-661.35 1658.81,-1055.95 1661.51,-1149.21"/>
<polygon fill="midnightblue" stroke="midnightblue" points="1658.02,-1149.57 1661.79,-1159.48 1665.02,-1149.39 1658.02,-1149.57"/>
</g>
<g><path fill="none" stroke="midnightblue" d="M836.41,-779.69C843.51,-813.02 871.74,-923.6 942,-974 1051.72,-1052.7 1114.1,-978.7 1242,-1022 1268.8,-1031.07 1297.02,-1047.15 1315.97,-1059.03"/>
<polygon fill="midnightblue" stroke="midnightblue" points="1314.17,-1062.03 1324.48,-1064.48 1317.94,-1056.14 1314.17,-1062.03"/>
</g>
<g><path fill="none" stroke="midnightblue" d="M856.47,-760.37C886.98,-747.01 942.31,-722.77 977,-707.58"/>
<polygon fill="midnightblue" stroke="midnightblue" points="978.45,-710.77 986.2,-703.55 975.64,-704.35 978.45,-710.77"/>
</g>
<g><path fill="none" stroke="midnightblue" d="M849.01,-779.67C868.96,-792.33 906.43,-813.85 942,-822 1000.05,-835.3 1019.67,-841.33 1076,-822 1095.17,-815.42 1094.31,-803.89 1112,-794 1119.29,-789.92 1127.41,-786.27 1135.35,-783.13"/>
<polygon fill="midnightblue" stroke="midnightblue" points="1136.75,-786.34 1144.88,-779.54 1134.29,-779.79 1136.75,-786.34"/>
</g>
<g><path fill="none" stroke="midnightblue" d="M839.22,-760.49C850.96,-736.69 882.28,-672.56 906,-618 923.18,-578.49 909.74,-556.56 942,-528 949.01,-521.79 1059.82,-494.14 1126.4,-477.94"/>
<polygon fill="midnightblue" stroke="midnightblue" points="1127.4,-481.3 1136.29,-475.54 1125.74,-474.5 1127.4,-481.3"/>
</g>
<g><path fill="none" stroke="midnightblue" d="M1042.44,-912.46C1053.42,-908.65 1065.54,-903.78 1076,-898 1093.74,-888.19 1092.83,-876.58 1112,-870 1166.65,-851.25 1185.98,-855.87 1242,-870 1266.26,-876.12 1291.06,-889.67 1309.44,-901.41"/>
<polygon fill="midnightblue" stroke="midnightblue" points="1307.64,-904.41 1317.92,-906.98 1311.48,-898.56 1307.64,-904.41"/>
</g>
<g><path fill="none" stroke="midnightblue" d="M1047,-912.45C1056.95,-908.87 1067.35,-904.14 1076,-898 1096.61,-883.38 1089.17,-864.82 1112,-854 1229.35,-798.39 1279.82,-850.33 1401,-897 1475.01,-925.5 1503.38,-922.47 1560,-978 1612.03,-1029.03 1643.75,-1112.31 1656.08,-1149.72"/>
<polygon fill="midnightblue" stroke="midnightblue" points="1652.8,-1150.93 1659.17,-1159.39 1659.46,-1148.8 1652.8,-1150.93"/>
</g>
<g><path fill="none" stroke="midnightblue" d="M1064.32,-915.85C1113.82,-912.85 1187.34,-915.14 1242,-946 1286.46,-971.1 1316.76,-1025.97 1330.36,-1055.04"/>
<polygon fill="midnightblue" stroke="midnightblue" points="1327.31,-1056.8 1334.61,-1064.48 1333.69,-1053.93 1327.31,-1056.8"/>
</g>
<g><path fill="none" stroke="midnightblue" d="M1053.39,-912.46C1061.71,-909.02 1069.76,-904.34 1076,-898 1110.32,-863.15 1077.86,-829.03 1112,-794 1115.83,-790.07 1120.37,-786.78 1125.23,-784.02"/>
<polygon fill="midnightblue" stroke="midnightblue" points="1126.8,-787.15 1134.25,-779.61 1123.72,-780.86 1126.8,-787.15"/>
</g>
<g><path fill="none" stroke="midnightblue" d="M1022.27,-1120.34C1041.13,-1105.63 1078.59,-1077.01 1112,-1055 1177.2,-1012.05 1256.49,-967.06 1301.87,-941.97"/>
<polygon fill="midnightblue" stroke="midnightblue" points="1303.68,-944.97 1310.75,-937.08 1300.3,-938.84 1303.68,-944.97"/>
</g>
<g><path fill="none" stroke="midnightblue" d="M1067.67,-1133.57C1149.71,-1138.63 1304.85,-1148.16 1437,-1156 1486.36,-1158.93 1541.81,-1162.13 1585.32,-1164.63"/>
<polygon fill="midnightblue" stroke="midnightblue" points="1585.36,-1168.14 1595.54,-1165.21 1585.76,-1161.15 1585.36,-1168.14"/>
</g>
<g><path fill="none" stroke="midnightblue" d="M1067.78,-1121.38C1114.78,-1114.23 1182.77,-1103.55 1242,-1093 1254.99,-1090.69 1268.94,-1088.04 1282.08,-1085.47"/>
<polygon fill="midnightblue" stroke="midnightblue" points="1282.8,-1088.89 1291.94,-1083.52 1281.45,-1082.02 1282.8,-1088.89"/>
</g>
<g><path fill="none" stroke="midnightblue" d="M1040.86,-1139.61C1053.23,-1144.81 1066.72,-1152.4 1076,-1163 1148.46,-1245.77 1169.05,-1383.67 1174.34,-1434.45"/>
<polygon fill="midnightblue" stroke="midnightblue" points="1170.85,-1434.8 1175.29,-1444.42 1177.82,-1434.13 1170.85,-1434.8"/>
</g>
<g><path fill="none" stroke="midnightblue" d="M1183.71,-1444.35C1196.43,-1422.4 1227.12,-1366.68 1242,-1316 1275,-1203.65 1245.42,-1167.47 1278,-1055 1289.52,-1015.25 1310.93,-972.14 1324.94,-946.11"/>
<polygon fill="midnightblue" stroke="midnightblue" points="1328.19,-947.46 1329.92,-937 1322.05,-944.1 1328.19,-947.46"/>
</g>
<g><path fill="none" stroke="midnightblue" d="M1219.82,-1444.46C1228,-1441.01 1235.92,-1436.33 1242,-1430 1277.35,-1393.21 1239.03,-1353.93 1278,-1321 1374.84,-1239.17 1447.84,-1337.1 1560,-1278 1600.87,-1256.47 1634.27,-1212.08 1650.79,-1187.1"/>
<polygon fill="midnightblue" stroke="midnightblue" points="1653.82,-1188.87 1656.28,-1178.57 1647.93,-1185.09 1653.82,-1188.87"/>
</g>
<g><path fill="none" stroke="midnightblue" d="M1191.47,-1444.33C1205.96,-1433.25 1228.7,-1413.79 1242,-1392 1258.19,-1365.46 1315.52,-1158.2 1333.24,-1093.34"/>
<polygon fill="midnightblue" stroke="midnightblue" points="1336.65,-1094.14 1335.9,-1083.57 1329.9,-1092.3 1336.65,-1094.14"/>
</g>
<g><path fill="none" stroke="midnightblue" d="M1218.5,-1463.59C1239.68,-1468.6 1265.8,-1474.79 1288.26,-1480.11"/>
<polygon fill="midnightblue" stroke="midnightblue" points="1287.75,-1483.58 1298.29,-1482.48 1289.37,-1476.77 1287.75,-1483.58"/>
</g>
<g><g><polygon fill="white" stroke="black" points="1288,-1330.5 1288,-1349.5 1391,-1349.5 1391,-1330.5 1288,-1330.5"/>
<text x="1339.78" y="-1337.40" textLength="84.93" lengthAdjust="spacingAndGlyphs">lwpoint_is_empty</text>
</g>
</g>
<g><path fill="none" stroke="midnightblue" d="M1216.99,-1444.39C1225.89,-1440.9 1234.83,-1436.22 1242,-1430 1267.23,-1408.09 1252.98,-1386.15 1278,-1364 1282.5,-1360.02 1287.74,-1356.65 1293.22,-1353.82"/>
<polygon fill="midnightblue" stroke="midnightblue" points="1294.93,-1356.89 1302.58,-1349.55 1292.03,-1350.52 1294.93,-1356.89"/>
</g>
<g><path fill="none" stroke="midnightblue" d="M1052.11,-1353.48C1060.26,-1350.92 1068.56,-1347.79 1076,-1344 1076,-1344 1242,-1215 1242,-1215 1281.08,-1153.47 1254.79,-1124.09 1278,-1055 1291.18,-1015.77 1312.13,-972.52 1325.6,-946.31"/>
<polygon fill="midnightblue" stroke="midnightblue" points="1328.86,-947.63 1330.36,-937.14 1322.65,-944.4 1328.86,-947.63"/>
</g>
<g><path fill="none" stroke="midnightblue" d="M1015.56,-1372.68C1027.48,-1393.65 1056.06,-1445.02 1076,-1490 1094.64,-1532.04 1075.84,-1558.59 1112,-1587 1269.13,-1710.45 1408.7,-1755.53 1560,-1625 1601.33,-1589.34 1583.89,-1435.23 1596,-1382 1612.58,-1309.16 1641.66,-1225.12 1654.98,-1188.14"/>
<polygon fill="midnightblue" stroke="midnightblue" points="1658.31,-1189.22 1658.44,-1178.62 1651.73,-1186.83 1658.31,-1189.22"/>
</g>
<g><path fill="none" stroke="midnightblue" d="M1065.52,-1365.9C1116.92,-1365.6 1192.63,-1357.22 1242,-1316 1312.25,-1257.35 1331.73,-1140.26 1336.82,-1093.72"/>
<polygon fill="midnightblue" stroke="midnightblue" points="1340.3,-1094.02 1337.8,-1083.73 1333.34,-1093.34 1340.3,-1094.02"/>
</g>
<g><path fill="none" stroke="midnightblue" d="M1055.28,-1372.62C1063.07,-1376.05 1070.43,-1380.7 1076,-1387 1123.4,-1440.65 1064.86,-1490.12 1112,-1544 1115.29,-1547.77 1119.24,-1550.94 1123.53,-1553.62"/>
<polygon fill="midnightblue" stroke="midnightblue" points="1122.25,-1556.9 1132.73,-1558.45 1125.5,-1550.7 1122.25,-1556.9"/>
</g>
<g><path fill="none" stroke="midnightblue" d="M1194.65,-1558.41C1209.89,-1548.62 1231.61,-1531.92 1242,-1511 1287.22,-1419.96 1252.57,-1153.42 1278,-1055 1288.34,-1014.97 1310.04,-972 1324.44,-946.06"/>
<polygon fill="midnightblue" stroke="midnightblue" points="1327.51,-947.74 1329.38,-937.31 1321.42,-944.3 1327.51,-947.74"/>
</g>
<g><path fill="none" stroke="midnightblue" d="M1225.22,-1558.49C1241.86,-1555.28 1260.73,-1551.8 1278,-1549 1340.42,-1538.87 1512.31,-1552.52 1560,-1511 1604.9,-1471.92 1579.19,-1439.1 1596,-1382 1617.1,-1310.34 1643.89,-1225.7 1655.8,-1188.35"/>
<polygon fill="midnightblue" stroke="midnightblue" points="1659.16,-1189.33 1658.88,-1178.74 1652.5,-1187.2 1659.16,-1189.33"/>
</g>
<g><path fill="none" stroke="midnightblue" d="M1193.86,-1558.33C1208.75,-1548.37 1230.42,-1531.46 1242,-1511 1284.35,-1436.21 1259.77,-1404.99 1278,-1321 1296.48,-1235.85 1322.43,-1135.18 1333.34,-1093.54"/>
<polygon fill="midnightblue" stroke="midnightblue" points="1336.73,-1094.4 1335.89,-1083.84 1329.96,-1092.62 1336.73,-1094.4"/>
</g>
<g><path fill="none" stroke="midnightblue" d="M1209.12,-1558.46C1219.85,-1554.62 1231.75,-1549.73 1242,-1544 1259.69,-1534.11 1260.4,-1526.06 1278,-1516 1284.97,-1512.02 1292.72,-1508.4 1300.3,-1505.25"/>
<polygon fill="midnightblue" stroke="midnightblue" points="1301.71,-1508.45 1309.72,-1501.51 1299.13,-1501.94 1301.71,-1508.45"/>
</g>
<g><g><polygon fill="white" stroke="black" points="1290,-1558.5 1290,-1577.5 1389,-1577.5 1389,-1558.5 1290,-1558.5"/>
<text x="1339.78" y="-1565.40" textLength="81.18" lengthAdjust="spacingAndGlyphs">lwpoly_is_empty</text>
</g>
</g>
<g><path fill="none" stroke="midnightblue" d="M1229.22,-1568C1245.33,-1568 1263.24,-1568 1279.82,-1568"/>
<polygon fill="midnightblue" stroke="midnightblue" points="1279.95,-1571.5 1289.95,-1568 1279.95,-1564.5 1279.95,-1571.5"/>
</g>
<g><path fill="none" stroke="midnightblue" d="M667.78,-489.42C693.46,-447.94 802.07,-283.22 942,-224 1008.26,-195.96 1094.14,-195.15 1141.26,-197.37"/>
<polygon fill="midnightblue" stroke="midnightblue" points="1141.09,-200.86 1151.26,-197.91 1141.47,-193.87 1141.09,-200.86"/>
</g>
<g><path fill="none" stroke="midnightblue" d="M679.5,-489.44C757.03,-448.53 1073.09,-296.91 1242,-447 1292.85,-492.19 1262.56,-684.75 1278,-751 1290.5,-804.64 1314.16,-864.81 1327.9,-897.54"/>
<polygon fill="midnightblue" stroke="midnightblue" points="1324.69,-898.94 1331.82,-906.78 1331.13,-896.21 1324.69,-898.94"/>
</g>
<g><path fill="none" stroke="midnightblue" d="M663.08,-489.46C667.73,-452.63 689.15,-317.98 761,-241 899.8,-92.29 972.59,-48 1176,-48 1176,-48 1176,-48 1340.5,-48 1523.36,-48 1497.82,-224.03 1560,-396 1663.19,-681.37 1663.87,-1059.7 1662.45,-1149.36"/>
<polygon fill="midnightblue" stroke="midnightblue" points="1658.95,-1149.39 1662.26,-1159.45 1665.94,-1149.52 1658.95,-1149.39"/>
</g>
<g><path fill="none" stroke="midnightblue" d="M663.56,-508.53C673.92,-568.25 738.68,-892.19 942,-1008 1059.27,-1074.8 1109.1,-1031.52 1242,-1055 1255,-1057.3 1268.94,-1059.94 1282.08,-1062.51"/>
<polygon fill="midnightblue" stroke="midnightblue" points="1281.45,-1065.95 1291.94,-1064.45 1282.81,-1059.08 1281.45,-1065.95"/>
</g>
<g><path fill="none" stroke="midnightblue" d="M711.83,-489.47C767.64,-479.31 860.91,-463.91 942,-458 1001.4,-453.67 1016.49,-455.62 1076,-458 1091.99,-458.64 1109.38,-459.85 1125.11,-461.14"/>
<polygon fill="midnightblue" stroke="midnightblue" points="1124.91,-464.63 1135.18,-461.99 1125.51,-457.66 1124.91,-464.63"/>
</g>
<g><path fill="none" stroke="midnightblue" d="M678.35,-508.59C708.26,-526.13 771.99,-563.51 807.42,-584.29"/>
<polygon fill="midnightblue" stroke="midnightblue" points="805.8,-587.4 816.2,-589.44 809.35,-581.36 805.8,-587.4"/>
</g>
<g><path fill="none" stroke="midnightblue" d="M662.58,-508.73C666.1,-563.61 686.94,-839.6 761,-1050 816.8,-1208.53 812.5,-1274.88 942,-1382 990.2,-1421.87 1032.14,-1380.4 1076,-1425 1114.74,-1464.4 1074.22,-1503.68 1112,-1544 1115.61,-1547.85 1119.9,-1551.09 1124.52,-1553.81"/>
<polygon fill="midnightblue" stroke="midnightblue" points="1123.22,-1557.07 1133.72,-1558.43 1126.36,-1550.82 1123.22,-1557.07"/>
</g>
<g><path fill="none" stroke="midnightblue" d="M1027.3,-1315.48C1069.49,-1291.47 1178.83,-1224.39 1242,-1141 1267.02,-1107.97 1261.42,-1092.97 1278,-1055 1294.65,-1016.86 1314.8,-972.99 1327.13,-946.39"/>
<polygon fill="midnightblue" stroke="midnightblue" points="1330.42,-947.64 1331.45,-937.09 1324.07,-944.69 1330.42,-947.64"/>
</g>
<g><path fill="none" stroke="midnightblue" d="M1063.45,-1334.62C1068.12,-1337.09 1072.42,-1340.17 1076,-1344 1127.83,-1399.48 1052.92,-1463.3 1112,-1511 1156.95,-1547.3 1188.92,-1533.83 1242,-1511 1263.37,-1501.81 1258.24,-1485.28 1278,-1473 1326.6,-1442.8 1348.74,-1458.28 1401,-1435 1476.2,-1401.5 1501.81,-1398.23 1560,-1340 1606.3,-1293.67 1639.94,-1222.23 1654.3,-1188.25"/>
<polygon fill="midnightblue" stroke="midnightblue" points="1657.7,-1189.18 1658.27,-1178.61 1651.23,-1186.52 1657.7,-1189.18"/>
</g>
<g><path fill="none" stroke="midnightblue" d="M1071.68,-1327.04C1122.4,-1325.58 1193.55,-1315.95 1242,-1278 1302.9,-1230.3 1327.26,-1134.84 1335.22,-1093.65"/>
<polygon fill="midnightblue" stroke="midnightblue" points="1338.71,-1094.03 1337.05,-1083.56 1331.82,-1092.78 1338.71,-1094.03"/>
</g>
<g><path fill="none" stroke="midnightblue" d="M1063.9,-1334.67C1068.42,-1337.13 1072.56,-1340.19 1076,-1344 1136.52,-1411.04 1054.16,-1474.63 1112,-1544 1115.11,-1547.73 1118.87,-1550.89 1122.98,-1553.55"/>
<polygon fill="midnightblue" stroke="midnightblue" points="1121.38,-1556.66 1131.84,-1558.36 1124.72,-1550.51 1121.38,-1556.66"/>
</g>
<g><path fill="none" stroke="midnightblue" d="M1056.67,-1173.88C1107.3,-1163.02 1188.1,-1139.49 1242,-1093 1288.76,-1052.68 1317.66,-983.82 1330.56,-946.98"/>
<polygon fill="midnightblue" stroke="midnightblue" points="1334.03,-947.66 1333.92,-937.07 1327.4,-945.42 1334.03,-947.66"/>
</g>
<g><path fill="none" stroke="midnightblue" d="M1056.72,-1189.7C1152.03,-1204.09 1375.48,-1231.11 1560,-1202 1584.06,-1198.2 1610.18,-1189.66 1629.97,-1182.22"/>
<polygon fill="midnightblue" stroke="midnightblue" points="1631.35,-1185.44 1639.41,-1178.57 1628.82,-1178.91 1631.35,-1185.44"/>
</g>
<g><path fill="none" stroke="midnightblue" d="M1056.63,-1187.15C1105.09,-1190.54 1182.08,-1190.33 1242,-1164 1277.97,-1148.2 1309.05,-1113.17 1325.66,-1091.78"/>
<polygon fill="midnightblue" stroke="midnightblue" points="1328.64,-1093.63 1331.86,-1083.54 1323.05,-1089.42 1328.64,-1093.63"/>
</g>
<g><path fill="none" stroke="midnightblue" d="M1025.06,-1191.63C1040.54,-1202.4 1064.02,-1221.35 1076,-1244 1124.15,-1335.08 1044.14,-1395.48 1112,-1473 1113.05,-1474.2 1114.17,-1475.32 1115.35,-1476.38"/>
<polygon fill="midnightblue" stroke="midnightblue" points="1113.73,-1479.52 1123.93,-1482.39 1117.75,-1473.78 1113.73,-1479.52"/>
</g>
<g><path fill="none" stroke="midnightblue" d="M1230.65,-1482.45C1234.95,-1479.96 1238.85,-1476.86 1242,-1473 1300.92,-1400.74 1254.36,-1145.18 1278,-1055 1288.49,-1015.01 1310.14,-972.03 1324.5,-946.08"/>
<polygon fill="midnightblue" stroke="midnightblue" points="1327.57,-947.75 1329.42,-937.32 1321.47,-944.32 1327.57,-947.75"/>
</g>
<g><path fill="none" stroke="midnightblue" d="M1226.76,-1482.36C1232.27,-1479.91 1237.51,-1476.85 1242,-1473 1270.38,-1448.68 1249.75,-1421.48 1278,-1397 1321.24,-1359.53 1346.67,-1376.95 1401,-1359 1472.14,-1335.49 1499.43,-1347.1 1560,-1303 1603.34,-1271.44 1636.93,-1216.34 1652.5,-1187.61"/>
<polygon fill="midnightblue" stroke="midnightblue" points="1655.66,-1189.11 1657.24,-1178.63 1649.47,-1185.84 1655.66,-1189.11"/>
</g>
<g><path fill="none" stroke="midnightblue" d="M1229.15,-1482.44C1233.92,-1479.97 1238.34,-1476.87 1242,-1473 1289.7,-1422.55 1261.74,-1388.49 1278,-1321 1298.41,-1236.29 1323.31,-1135.39 1333.64,-1093.61"/>
<polygon fill="midnightblue" stroke="midnightblue" points="1337.05,-1094.42 1336.05,-1083.88 1330.25,-1092.74 1337.05,-1094.42"/>
</g>
<g><path fill="none" stroke="midnightblue" d="M1237.31,-1492C1249.73,-1492 1262.86,-1492 1275.41,-1492"/>
<polygon fill="midnightblue" stroke="midnightblue" points="1275.79,-1495.5 1285.79,-1492 1275.79,-1488.5 1275.79,-1495.5"/>
</g>
<g><g><polygon fill="white" stroke="black" points="1281.5,-1406.5 1281.5,-1425.5 1397.5,-1425.5 1397.5,-1406.5 1281.5,-1406.5"/>
<text x="1339.78" y="-1413.40" textLength="97.68" lengthAdjust="spacingAndGlyphs">lwtriangle_is_empty</text>
</g>
</g>
<g><path fill="none" stroke="midnightblue" d="M1220.09,-1482.48C1227.64,-1479.95 1235.24,-1476.83 1242,-1473 1260.89,-1462.3 1259.61,-1451.53 1278,-1440 1284.39,-1436 1291.55,-1432.45 1298.65,-1429.4"/>
<polygon fill="midnightblue" stroke="midnightblue" points="1300.26,-1432.52 1308.22,-1425.54 1297.64,-1426.03 1300.26,-1432.52"/>
</g>
<g><g><polygon fill="white" stroke="black" points="1440.5,-0.5 1440.5,-19.5 1556.5,-19.5 1556.5,-0.5 1440.5,-0.5"/>
<text x="1498.74" y="-7.40" textLength="99.89" lengthAdjust="spacingAndGlyphs">stringbuffer_avprintf</text>
</g>
</g>
<g><path fill="none" stroke="midnightblue" d="M516.55,-114.48C562.83,-87.08 704.39,-10 832.5,-10 832.5,-10 832.5,-10 1178,-10 1265.14,-10 1365.65,-10 1430.3,-10"/>
<polygon fill="midnightblue" stroke="midnightblue" points="1430.36,-13.5 1440.36,-10 1430.36,-6.5 1430.36,-13.5"/>
</g>
<g><path fill="none" stroke="midnightblue" d="M1539.91,-19.58C1547.49,-23.02 1554.69,-27.68 1560,-34 1735.28,-242.65 1816.91,-1171.66 1828.93,-1320"/>
<polygon fill="midnightblue" stroke="midnightblue" points="1825.47,-1320.61 1829.75,-1330.3 1832.44,-1320.06 1825.47,-1320.61"/>
</g>
<g><g><polygon fill="white" stroke="black" points="606.5,-1456 606.5,-1486 715.5,-1486 715.5,-1456 606.5,-1456"/>
<text x="661.08" y="-1473.90" textLength="92.08" lengthAdjust="spacingAndGlyphs">stringbuffer_create</text>
<text x="660.85" y="-1462.90" textLength="50.54" lengthAdjust="spacingAndGlyphs">_with_size</text>
</g>
</g>
<g><path fill="none" stroke="midnightblue" d="M549.78,-1068.66C554.04,-1071.12 557.9,-1074.18 561,-1078 663.13,-1203.91 503.78,-1308.36 597,-1441 599.32,-1444.31 602.11,-1447.26 605.2,-1449.9"/>
<polygon fill="midnightblue" stroke="midnightblue" points="603.26,-1452.81 613.42,-1455.82 607.36,-1447.14 603.26,-1452.81"/>
</g>
<g><g><polygon fill="white" stroke="black" points="983.5,-1499.5 983.5,-1518.5 1034.5,-1518.5 1034.5,-1499.5 983.5,-1499.5"/>
<text x="1009.29" y="-1506.40" textLength="33.19" lengthAdjust="spacingAndGlyphs">lwalloc</text>
</g>
</g>
<g><path fill="none" stroke="midnightblue" d="M715.51,-1482.41C730.2,-1485.23 746.17,-1488.01 761,-1490 836.3,-1500.09 925.28,-1505.3 973.22,-1507.56"/>
<polygon fill="midnightblue" stroke="midnightblue" points="973.21,-1511.07 983.36,-1508.03 973.53,-1504.07 973.21,-1511.07"/>
</g>
<g><g><polygon fill="white" stroke="black" points="761,-1461.5 761,-1480.5 906,-1480.5 906,-1461.5 761,-1461.5"/>
<text x="833.58" y="-1468.40" textLength="128.08" lengthAdjust="spacingAndGlyphs">stringbuffer_init_with_size</text>
</g>
</g>
<g><path fill="none" stroke="midnightblue" d="M715.95,-1471C726.96,-1471 738.79,-1471 750.53,-1471"/>
<polygon fill="midnightblue" stroke="midnightblue" points="750.81,-1474.5 760.81,-1471 750.81,-1467.5 750.81,-1474.5"/>
</g>
<g><path fill="none" stroke="midnightblue" d="M878.28,-1480.59C907.66,-1487.02 945.82,-1495.38 973.14,-1501.37"/>
<polygon fill="midnightblue" stroke="midnightblue" points="972.52,-1504.81 983.04,-1503.53 974.02,-1497.97 972.52,-1504.81"/>
</g>
<g><g><polygon fill="white" stroke="black" points="637.5,-1505.5 637.5,-1524.5 684.5,-1524.5 684.5,-1505.5 637.5,-1505.5"/>
<text x="661.28" y="-1512.40" textLength="29.42" lengthAdjust="spacingAndGlyphs">lwfree</text>
</g>
</g>
<g><path fill="none" stroke="midnightblue" d="M381.98,-1486.51C399.76,-1489.89 420.26,-1493.48 439,-1496 505.5,-1504.94 583.85,-1510.51 627.12,-1513.16"/>
<polygon fill="midnightblue" stroke="midnightblue" points="627.14,-1516.67 637.33,-1513.77 627.56,-1509.68 627.14,-1516.67"/>
</g>
<g><g><polygon fill="white" stroke="black" points="443,-1467.5 443,-1486.5 557,-1486.5 557,-1467.5 443,-1467.5"/>
<text x="500.08" y="-1474.40" textLength="97.33" lengthAdjust="spacingAndGlyphs">stringbuffer_release</text>
</g>
</g>
<g><path fill="none" stroke="midnightblue" d="M392.23,-1477C405.31,-1477 419.34,-1477 432.78,-1477"/>
<polygon fill="midnightblue" stroke="midnightblue" points="432.93,-1480.5 442.93,-1477 432.93,-1473.5 432.93,-1480.5"/>
</g>
<g><path fill="none" stroke="midnightblue" d="M541.12,-1486.59C567.81,-1492.97 602.41,-1501.24 627.39,-1507.21"/>
<polygon fill="midnightblue" stroke="midnightblue" points="626.58,-1510.61 637.12,-1509.53 628.21,-1503.8 626.58,-1510.61"/>
</g>
<g><path fill="none" stroke="midnightblue" d="M874.74,-1540.49C904.61,-1533.43 944.92,-1523.91 973.36,-1517.19"/>
<polygon fill="midnightblue" stroke="midnightblue" points="974.33,-1520.55 983.26,-1514.85 972.72,-1513.74 974.33,-1520.55"/>
</g>
</g>

</svg>
</body></html>
